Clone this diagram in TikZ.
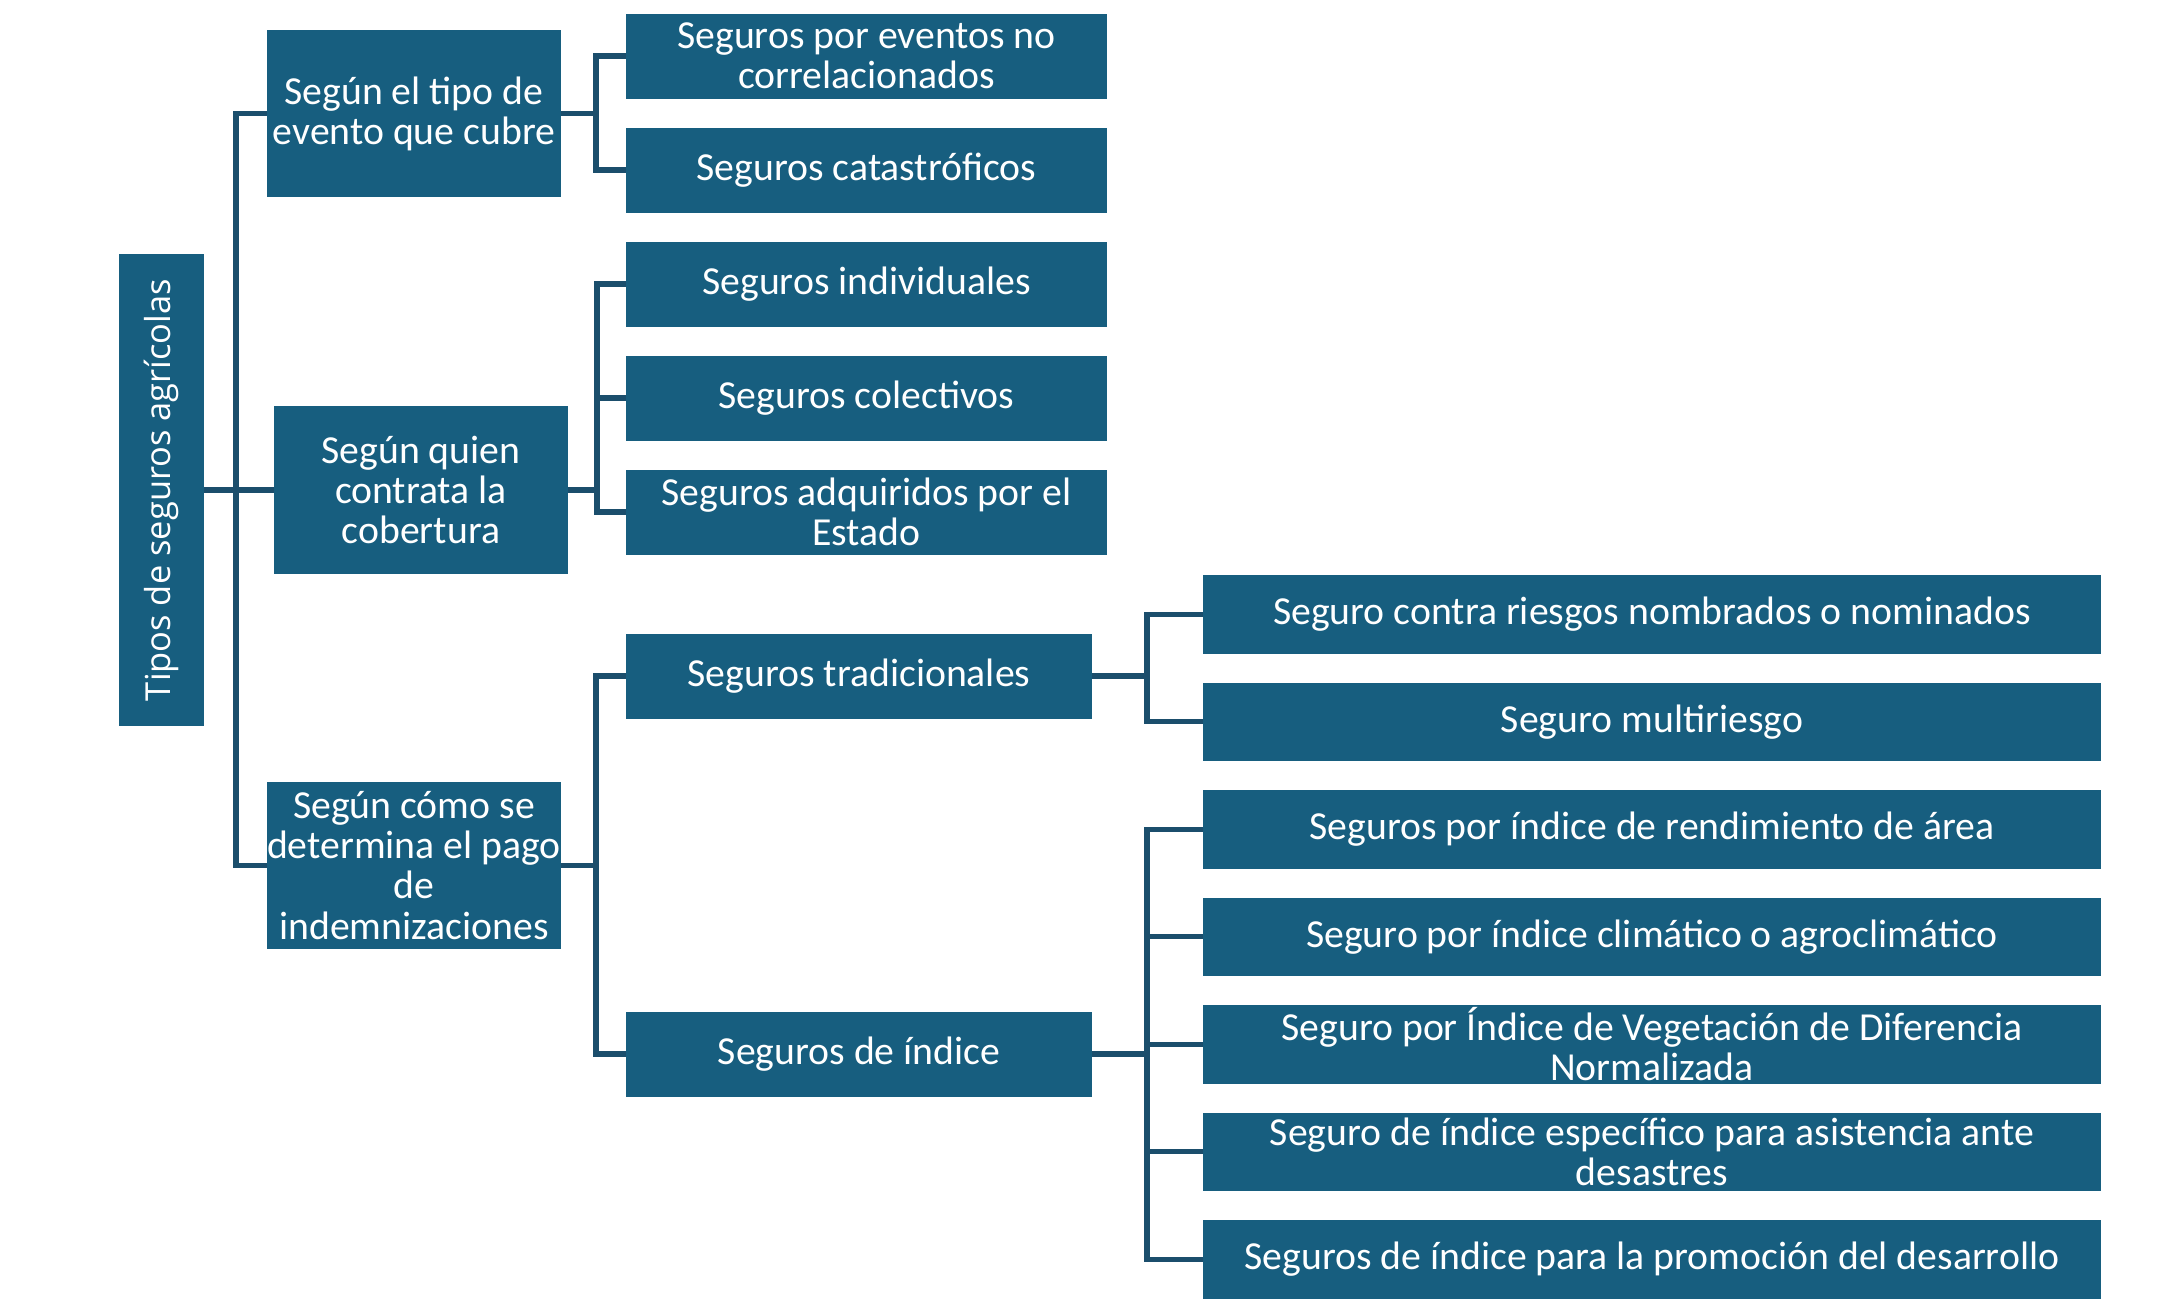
\documentclass[tikz,border=0pt]{standalone}
\usepackage{fontspec}
\setmainfont{Carlito}
\newfontfamily\rootfont{Open Sans}
\usetikzlibrary{positioning}
\definecolor{boxblue}{RGB}{23,94,127}
\definecolor{linkblue}{RGB}{27,78,108}

\begin{document}
\begin{tikzpicture}[
  box/.style={fill=boxblue,text=white,inner sep=0pt,outer sep=0pt,align=center,font=\fontsize{11.3}{11.4}\selectfont},
  lvlone/.style={box,minimum width=2.94cm,minimum height=1.675cm},
  lvltwo/.style={box,minimum width=4.81cm,minimum height=0.85cm},
  lvlthree/.style={box,minimum width=8.98cm,minimum height=0.785cm},
  link/.style={draw=linkblue,line width=1.5pt},
  elbow/.style={to path={-- ++(#1,0) |- (\tikztotarget)}},
  node distance=0.29cm]
\useasboundingbox (0,0) rectangle (21.73,-13.12);

\node[box,minimum width=0.85cm,minimum height=4.72cm](root) at (1.615,-4.90){\rotatebox{90}{\rootfont\fontsize{9.8}{11}\selectfont Tipos de seguros agrícolas}};

\node[lvlone,right=0.70cm of root](quien){Según quien\\contrata la\\cobertura};
\node[lvlone,above=2.09cm of quien,xshift=-0.07cm](evento){Según el tipo de\\evento que cubre};
\node[lvlone,below=2.08cm of quien,xshift=-0.07cm](pago){Según cómo se\\determina el pago\\de\\indemnizaciones};

\node[lvltwo](nocorr) at (8.665,-0.56){Seguros por eventos no\\correlacionados};
\node[lvltwo,below=of nocorr](catast){Seguros catastróficos};
\node[lvltwo,below=of catast](indiv){Seguros individuales};
\node[lvltwo,below=of indiv](colect){Seguros colectivos};
\node[lvltwo,below=of colect](estado){Seguros adquiridos por el\\Estado};
\node[lvltwo,minimum width=4.66cm,below=0.79cm of estado.south west,anchor=north west](tradic){Seguros tradicionales};
\node[lvltwo,minimum width=4.66cm,below=2.93cm of tradic](indice){Seguros de índice};

\node[lvlthree](nombrados) at (16.52,-6.1425){Seguro contra riesgos nombrados o nominados};
\node[lvlthree,below=of nombrados](multi){Seguro multiriesgo};
\node[lvlthree,below=of multi](area){Seguros por índice de rendimiento de área};
\node[lvlthree,below=of area](clima){Seguro por índice climático o agroclimático};
\node[lvlthree,below=of clima](ndvi){Seguro por Índice de Vegetación de Diferencia\\Normalizada};
\node[lvlthree,below=of ndvi](desastre){Seguro de índice específico para asistencia ante\\desastres};
\node[lvlthree,below=of desastre](desarrollo){Seguros de índice para la promoción del desarrollo};

\path (root.east) edge[link,elbow=0.32] (evento.west);
\path (root.east) edge[link,elbow=0.32] (quien.west);
\path (root.east) edge[link,elbow=0.32] (pago.west);

\path (evento.east) edge[link,elbow=0.35] (nocorr.west);
\path (evento.east) edge[link,elbow=0.35] (catast.west);

\path (quien.east) edge[link,elbow=0.29] (indiv.west);
\path (quien.east) edge[link,elbow=0.29] (colect.west);
\path (quien.east) edge[link,elbow=0.29] (estado.west);

\path (pago.east) edge[link,elbow=0.35] (tradic.west);
\path (pago.east) edge[link,elbow=0.35] (indice.west);

\path (tradic.east) edge[link,elbow=0.55] (nombrados.west);
\path (tradic.east) edge[link,elbow=0.55] (multi.west);

\path (indice.east) edge[link,elbow=0.55] (area.west);
\path (indice.east) edge[link,elbow=0.55] (clima.west);
\path (indice.east) edge[link,elbow=0.55] (ndvi.west);
\path (indice.east) edge[link,elbow=0.55] (desastre.west);
\path (indice.east) edge[link,elbow=0.55] (desarrollo.west);

\end{tikzpicture}
\end{document}
